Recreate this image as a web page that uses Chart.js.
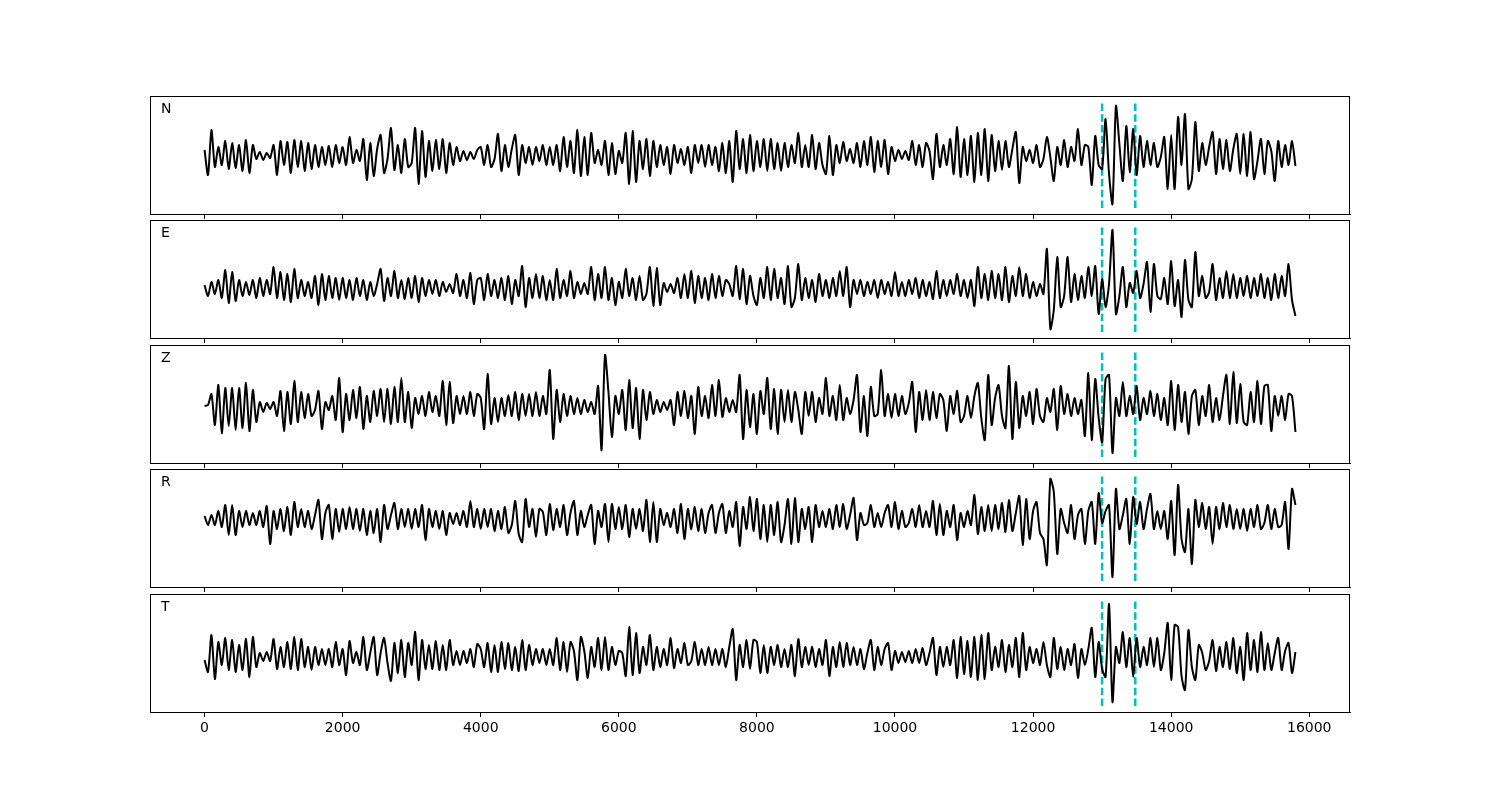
<!DOCTYPE html>
<html>
<head>
<meta charset="utf-8">
<script src="https://cdn.jsdelivr.net/npm/chart.js@4.4.1/dist/chart.umd.min.js"></script>
<style>
  body { margin: 0; background: #fff; }
  #wrap { position: relative; width: 1500px; height: 800px; }
  #wrap canvas { position: absolute; left: 0; }
</style>
</head>
<body>
<div id="wrap"></div>
<script>
// channel names, one panel each
var channelNames = ['N', 'E', 'Z', 'R', 'T'];

// trace amplitudes, one sample every 50 units from 0 to 15800
var nValues = [
  5,-20,25,-12,8,-10,14,-14,12,-13,10,-16,15,-18,10,-4,3,-5,2,-3,
  10,-20,14,-10,13,-18,15,-12,14,-16,12,-14,10,-12,8,-10,9,-12,10,-8,
  8,-10,18,-8,5,-6,16,-25,12,-21,6,20,-18,-4,27,-15,10,-18,16,-12,
  -8,27,-29,24,-22,14,-16,15,-14,16,-18,12,-10,8,-6,4,-5,3,-4,5,
  8,-10,10,-12,-4,21,-16,10,-12,6,20,-20,10,-8,8,-10,8,-6,10,-10,
  8,-10,10,-16,18,-12,14,-18,25,-21,18,-20,22,-8,5,-10,14,-20,12,-19,
  4,-8,22,-29,24,-27,14,-14,16,-21,14,-12,10,-10,8,-19,10,-8,6,-10,
  8,-18,10,-8,10,-12,10,-10,8,-16,12,-18,14,-27,24,-14,16,-18,20,-16,
  14,-12,16,-16,16,-14,12,-16,12,-12,10,-8,22,-12,10,-12,20,-14,12,-10,
  -19,19,-20,10,-8,13,-6,6,-8,12,-12,14,-10,18,-17,14,-12,15,-19,8,
  -6,5,-4,4,-5,14,-10,10,-12,12,4,-24,21,-12,10,-10,16,-19,28,-22,
  16,-20,19,-27,22,-20,26,-26,20,-16,14,-15,14,-12,6,23,-28,8,-6,5,
  -8,10,-12,-4,18,-2,-26,8,-10,15,-12,8,-6,26,-10,10,8,-30,19,-10,
  -14,36,-19,-49,49,11,-26,29,-17,26,-20,19,-12,14,-10,12,-12,-2,18,-34,
  20,-34,38,-10,41,-34,-24,33,-16,12,-10,8,23,-19,16,-14,15,-16,6,21,
  -19,21,-21,23,-24,-6,16,-19,14,4,-26,14,-12,10,-10,14,-11
];
var eValues = [
  3,-8,6,-6,8,-10,18,-15,16,-13,8,-8,6,-7,8,-10,10,-8,8,-6,
  21,-10,16,-12,14,-14,19,-10,8,-8,6,-10,12,-17,14,-12,12,-10,10,-12,
  10,-10,8,-12,10,-8,8,-12,6,-8,4,19,-13,10,-8,17,-10,8,-11,10,
  -10,12,-14,10,-8,8,-6,8,-8,6,-4,4,-5,14,-8,8,-10,15,-16,8,
  10,-12,14,-8,8,-10,10,-12,12,-16,8,-8,22,-19,10,-10,14,-10,12,-12,
  8,-12,19,-10,8,-8,17,-10,6,-6,5,-6,21,-12,14,-10,21,-12,10,-17,
  6,-10,19,-8,10,-12,12,-12,-6,21,-18,20,-17,5,-4,4,-5,10,-10,14,
  -10,17,-15,12,-10,10,-12,14,-10,12,-8,8,4,-8,22,-11,19,-16,12,-8,
  -17,10,-10,21,-12,19,-10,10,-16,22,-19,-10,24,-12,10,-10,8,-14,14,-8,
  8,-10,10,-8,17,-8,21,-19,8,-6,8,-8,6,-6,8,-10,8,-6,6,-8,
  16,-8,6,-8,8,-6,10,-10,8,-8,6,-11,17,-10,8,-8,8,-6,14,-8,
  8,-10,8,-18,21,-10,14,-12,17,-10,14,-12,21,-14,12,-8,21,-8,14,-10,
  6,-8,4,-6,39,-41,-22,31,-19,-8,31,-14,14,-12,12,-10,21,-8,22,-26,
  9,-19,4,58,-26,-8,21,-19,5,-5,17,-10,4,26,-24,24,-8,-11,10,-16,
  27,-18,8,-29,28,-12,-19,36,-8,12,-10,-4,24,-12,10,-10,17,-10,14,-10,
  10,-8,12,-10,10,-8,14,-10,10,-12,14,-10,12,-8,24,-12,-28
];
var zValues = [
  0,1,12,-19,21,-27,18,-20,18,-24,18,-22,23,-25,16,-16,4,-6,3,-3,
  4,-10,15,-25,14,-18,25,-16,14,-12,12,-10,-4,15,-23,4,-4,10,-14,28,
  -26,12,-14,16,-12,19,-23,10,-16,15,-10,17,-16,17,-18,19,-16,28,-16,14,
  -22,8,-8,10,-10,14,-6,10,-10,25,-19,24,-17,10,-8,10,-8,14,-10,12,
  8,-23,32,-18,8,-16,8,-10,11,-10,14,-14,12,-10,12,-10,14,-10,10,-8,
  36,-33,16,-16,12,-10,10,-8,8,-8,6,-6,4,-8,20,-44,51,14,-31,10,
  -8,16,-24,26,-22,18,-33,16,-14,14,-8,6,-6,4,-4,6,-19,14,-10,15,
  -12,10,-28,19,-10,10,-12,21,-10,26,-11,8,-6,6,-6,31,-33,16,-21,12,
  -28,15,-8,28,-23,17,-28,16,-16,16,-16,14,-4,-28,14,-10,14,-16,8,-8,
  28,-10,10,-14,21,-14,8,-8,6,31,-26,10,-30,19,-10,-8,36,-10,12,-12,
  12,-10,10,-8,3,24,-26,14,-14,16,-14,14,-12,12,6,-25,10,-8,15,-16,
  -10,10,-12,10,23,-12,-34,31,-19,8,21,-10,-22,40,-33,24,-22,10,-10,14,
  -18,17,-10,-16,8,-6,17,-24,20,-8,12,-10,8,-8,6,-30,33,-34,27,-12,
  -36,27,31,-47,8,-10,24,-10,10,-8,20,-14,8,-8,15,-10,12,-14,8,-19,
  25,-24,21,-16,14,-28,10,16,-19,10,-10,21,-16,8,-14,10,31,-18,34,-17,
  22,-16,-19,14,-16,25,-18,20,21,-25,10,-10,10,-14,12,10,-26
];
var rValues = [
  3,-6,4,-6,8,-8,14,-16,14,-16,8,-8,8,-6,6,-6,8,-8,13,-25,
  8,-10,10,-12,12,-16,17,-8,10,-8,8,-10,4,19,-20,6,14,-20,10,-13,
  10,-10,12,-10,10,-12,10,-16,8,-14,10,-23,14,-10,4,16,-10,10,-8,10,
  -10,10,-8,14,-21,10,-8,8,-10,8,-16,6,-5,6,-6,8,-8,18,-8,10,
  -10,10,-8,10,-12,8,-10,12,-14,-6,18,-15,-23,20,-8,10,-18,10,7,-16,
  15,-11,10,-8,14,-16,6,18,-16,8,-8,4,14,-25,8,-8,15,-23,15,-10,
  12,-10,14,-18,10,-10,10,-12,19,-23,17,-23,10,-6,6,-8,10,-14,15,-20,
  10,-10,12,-12,10,-14,6,14,-14,6,15,-14,8,-8,17,-27,12,-10,22,-12,
  20,-20,14,-23,14,-16,17,-23,-6,20,-25,21,-23,10,-10,12,-23,14,-8,8,
  -8,10,-10,14,-8,15,-10,4,21,-21,6,-6,-4,14,-8,6,-8,6,14,-8,
  17,-10,8,-8,-4,10,-8,14,-8,8,-8,18,-16,15,-16,8,-8,14,-21,6,
  -8,8,-6,24,-15,12,-12,14,-12,14,-10,16,-13,19,-12,6,23,-26,20,-20,
  8,17,-14,-20,-46,40,27,-35,10,-4,-14,14,-20,4,10,-25,8,17,-25,26,
  -4,8,14,-58,30,-10,4,20,-25,22,-5,17,-10,10,25,-10,8,-10,8,-20,
  18,-36,34,-20,-33,10,-45,19,-8,16,-10,12,-25,12,-10,16,-8,14,-10,10,
  -10,10,-12,10,-8,14,-10,-4,14,-10,10,-8,-6,17,-30,30,14
];
var tValues = [
  -3,-15,22,-22,15,-8,19,-13,17,-15,12,-13,18,-20,20,-10,4,-4,5,-4,
  18,-12,10,-10,15,-12,20,-13,18,-10,10,-13,10,-8,8,-8,8,-10,15,-8,
  8,-18,16,-6,5,-8,20,-13,4,20,-18,4,19,-6,-24,14,-16,17,-20,14,
  -8,25,-23,17,-12,12,-12,16,-13,12,-13,17,-8,6,-8,6,-6,8,-10,13,
  8,-10,14,-15,12,-15,15,-12,14,-13,10,-14,17,-13,12,-8,8,-6,8,-8,
  8,-8,19,-13,15,-15,15,6,-23,20,6,-21,10,-10,19,-13,20,-13,10,-8,
  6,4,-19,30,-18,24,-16,10,-8,22,-13,10,-10,8,-8,19,-11,8,-6,14,
  -8,-4,15,-8,8,-8,10,-8,8,-8,8,-10,10,28,-23,12,-10,17,-12,17,
  15,-16,12,-16,10,-8,12,-10,8,-10,12,-19,18,-10,10,-8,10,-10,8,-8,
  17,-19,10,-10,15,-10,14,-8,10,-8,8,-12,4,17,-13,10,-8,8,14,-13,
  6,-6,5,-5,6,-6,8,-6,9,-8,4,19,-18,10,-10,10,-8,17,-21,20,
  -17,16,-20,20,-23,22,-22,24,-13,10,-10,17,-15,12,-10,19,-20,24,-13,10,
  -6,8,-8,15,-8,-20,19,-12,10,-13,8,-8,13,-21,8,-8,8,29,-20,15,
  -12,-20,53,-45,10,-6,25,-10,19,-20,19,-10,10,-8,19,-10,19,-13,4,34,
  -23,32,30,-19,-33,27,-10,-23,12,4,-13,-4,17,-14,10,-10,15,-12,19,-16,
  10,-23,24,-13,17,-15,25,-13,14,-13,4,19,-13,6,14,-16,5
];
var channelValues = [nValues, eValues, zValues, rValues, tValues];

var endTime = 15800;
var pickTimes = [13000, 13480];
var xTickValues = [0, 2000, 4000, 6000, 8000, 10000, 12000, 14000, 16000];

// layout of the five panels (pixels) and their value ranges
var panelTops = [96, 220, 345, 469, 594];
var panelHeight = 118;
var yLimits = [[-59, 59], [-50, 68], [-57, 61], [-68, 50], [-55, 63]];

var framePlugin = {
  id: 'frame',
  afterDraw: function(chart, args, opts) {
    var ctx = chart.ctx, a = chart.chartArea;
    ctx.save();
    ctx.strokeStyle = '#000';
    ctx.lineWidth = 1;
    ctx.strokeRect(Math.round(a.left) + 0.5, Math.round(a.top) + 0.5,
                   Math.round(a.right - a.left) - 1, Math.round(a.bottom - a.top));
    ctx.fillStyle = '#000';
    ctx.font = '14px "DejaVu Sans"';
    ctx.textBaseline = 'alphabetic';
    ctx.fillText(opts.label, a.left + 11, a.top + 17);
    ctx.restore();
  }
};

function makePanel(k) {
  var isBottom = k === channelNames.length - 1;
  var padTop = 6;
  var axisH = isBottom ? 40 : 8;
  var canvas = document.createElement('canvas');
  canvas.width = 1500;
  canvas.height = padTop + panelHeight + axisH;
  canvas.style.width = '1500px';
  canvas.style.height = canvas.height + 'px';
  canvas.style.top = (panelTops[k] - padTop) + 'px';
  document.getElementById('wrap').appendChild(canvas);

  var vals = channelValues[k];
  var step = endTime / (vals.length - 1);
  var trace = vals.map(function(v, i) { return { x: i * step, y: v }; });

  var yMin = yLimits[k][0], yMax = yLimits[k][1];
  var lo = yMin + 0.05 * (yMax - yMin), hi = yMax - 0.05 * (yMax - yMin);
  var datasets = [{
    data: trace,
    borderColor: '#000',
    borderWidth: 2,
    pointRadius: 0,
    tension: 0.25
  }];
  pickTimes.forEach(function(t) {
    datasets.push({
      data: [{ x: t, y: lo }, { x: t, y: hi }],
      borderColor: '#00bfbf',
      borderWidth: 2.5,
      borderDash: [7.5, 3.3],
      pointRadius: 0
    });
  });

  new Chart(canvas, {
    type: 'line',
    data: { datasets: datasets },
    options: {
      responsive: false,
      animation: false,
      events: [],
      layout: { padding: { top: padTop, left: 150, right: 150, bottom: 0 } },
      plugins: { legend: { display: false }, tooltip: { enabled: false }, frame: { label: channelNames[k] } },
      scales: {
        x: {
          type: 'linear',
          min: -790,
          max: 16590,
          afterBuildTicks: function(scale) {
            scale.ticks = xTickValues.map(function(v) { return { value: v }; });
          },
          afterFit: function(scale) { scale.height = axisH; },
          grid: { drawOnChartArea: false, drawTicks: true, tickLength: 5, tickColor: '#000', tickWidth: 1 },
          border: { display: true, color: '#000', width: 1 },
          ticks: {
            display: isBottom,
            padding: 3,
            maxRotation: 0,
            autoSkip: false,
            color: '#000',
            font: { family: 'DejaVu Sans', size: 14 },
            callback: function(v) { return String(v); }
          }
        },
        y: { display: false, min: yMin, max: yMax }
      }
    },
    plugins: [framePlugin]
  });
}

for (var k = 0; k < channelNames.length; k++) makePanel(k);
</script>
</body>
</html>
